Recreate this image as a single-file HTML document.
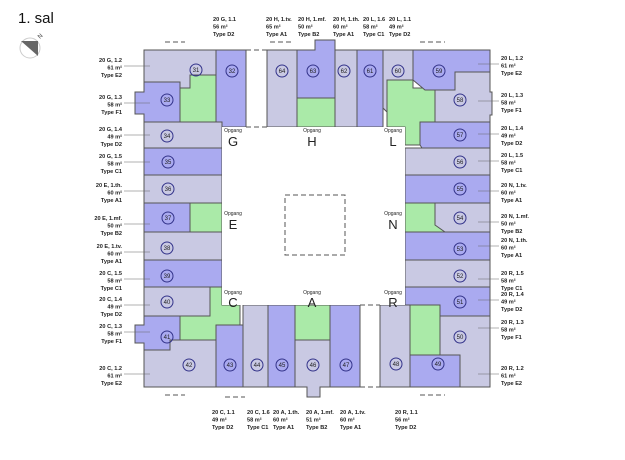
<!DOCTYPE html>
<html><head><meta charset="utf-8"><style>
html,body{margin:0;padding:0;background:#fff;}
svg{display:block;font-family:"Liberation Sans",sans-serif;}
.l{fill:#c9c9e3;stroke:#555;stroke-width:1}
.b{fill:#aaaaf0;stroke:#555;stroke-width:1}
.g{fill:#aaeaa8;stroke:#555;stroke-width:1}
.c{fill:none;stroke:#33338a;stroke-width:1}
.n{font-size:6px;fill:#222;text-anchor:middle}
.t{font-size:5.6px;font-weight:bold;fill:#222}
.op{font-size:5px;fill:#222;text-anchor:middle}
.big{font-size:13px;fill:#222;text-anchor:middle}
.d{stroke:#555;stroke-dasharray:5,3;fill:none}
</style></head><body>
<svg width="625" height="460" viewBox="0 0 625 460">
<text x="18" y="23" font-size="15" fill="#111">1. sal</text>
<circle cx="30" cy="48" r="10" fill="#fff" stroke="#ccc"/>
<polygon points="21,41 38,41 38,56" fill="#666"/>
<text x="40" y="39" font-size="6" fill="#333" transform="rotate(-45 40 39)">N</text>

<!-- top-left block -->
<polygon class="l" points="144,50 216,50 216,82 180,82 180,60 144,60"/>
<polygon class="l" points="144,50 216,50 216,75 190,75 190,88 180,88 180,82 144,82"/>
<polygon class="g" points="180,88 190,88 190,75 216,75 216,127 200,127 200,122 180,122"/>
<rect class="b" x="216" y="50" width="30" height="77"/>
<polygon class="b" points="144,82 180,82 180,122 144,122 144,114 135,114 135,92 144,92"/>
<!-- left column -->
<rect class="l" x="144" y="122" width="78" height="26"/>
<rect class="b" x="144" y="148" width="78" height="27"/>
<rect class="l" x="144" y="175" width="78" height="28"/>
<rect class="b" x="144" y="203" width="46" height="29"/>
<rect class="g" x="190" y="203" width="32" height="29"/>
<rect class="l" x="144" y="232" width="78" height="28"/>
<rect class="b" x="144" y="260" width="78" height="27"/>
<polygon class="g" points="210,287 222,287 222,305 240,305 240,325 216,325 216,355 180,355 180,316 210,316"/>
<rect class="l" x="144" y="287" width="66" height="29"/>
<polygon class="b" points="144,316 180,316 180,355 190,355 190,350 144,350 144,343 135,343 135,325 144,325"/>
<polygon class="b" points="144,316 180,316 180,350 144,350 144,343 135,343 135,325 144,325"/>
<polygon class="l" points="144,350 170,350 170,340 216,340 216,387 144,387"/>
<!-- bottom row -->
<rect class="b" x="216" y="325" width="27" height="62"/>
<rect class="l" x="243" y="305" width="25" height="82"/>
<rect class="b" x="268" y="305" width="27" height="82"/>
<rect class="g" x="295" y="305" width="35" height="35"/>
<polygon class="l" points="295,340 330,340 330,387 320,387 320,397 307,397 307,387 295,387"/>
<rect class="b" x="330" y="305" width="30" height="82"/>
<!-- bottom right -->
<rect class="l" x="380" y="305" width="30" height="82"/>
<rect class="g" x="410" y="305" width="50" height="50"/>
<rect class="b" x="410" y="355" width="50" height="32"/>
<polygon class="l" points="440,316 490,316 490,387 460,387 460,355 440,355"/>
<polygon class="b" points="405,287 490,287 490,316 440,316 440,305 405,305"/>
<!-- right column -->
<rect class="l" x="405" y="260" width="85" height="27"/>
<rect class="b" x="405" y="232" width="85" height="28"/>
<rect class="g" x="405" y="203" width="40" height="29"/>
<polygon class="l" points="435,203 490,203 490,232 445,232 435,225"/>
<rect class="b" x="405" y="175" width="85" height="28"/>
<rect class="l" x="405" y="148" width="85" height="27"/>
<polygon class="b" points="420,122 490,122 490,148 422,148 420,145"/>
<polygon class="g" points="387,80 413,80 413,88 435,88 435,122 420,122 420,145 405,145 405,127 387,127"/>
<polygon class="l" points="435,72 490,72 490,92 492,92 492,115 490,115 490,122 435,122"/>
<polygon class="b" points="413,50 490,50 490,72 455,72 455,90 425,90 413,80"/>
<polygon class="l" points="383,50 413,50 413,80 387,80 387,112 383,108"/>
<rect class="b" x="357" y="50" width="26" height="77"/>
<rect class="l" x="335" y="50" width="22" height="77"/>
<polygon class="b" points="297,50 315,50 315,40 335,40 335,98 297,98"/>
<rect class="g" x="297" y="98" width="38" height="29"/>
<rect class="l" x="267" y="50" width="30" height="77"/>
<!-- courtyard -->
<rect x="222" y="127" width="183" height="178" fill="#fff"/>
<rect class="d" x="285" y="195" width="60" height="60"/>
<line class="d" x1="246" y1="50" x2="267" y2="50"/><line class="d" x1="246" y1="127" x2="267" y2="127"/>
<line class="d" x1="360" y1="305" x2="380" y2="305"/><line class="d" x1="360" y1="387" x2="380" y2="387"/>
<line class="d" x1="165" y1="42" x2="185" y2="42"/><line class="d" x1="270" y1="42" x2="292" y2="42"/>
<line class="d" x1="225" y1="397" x2="245" y2="397"/><line class="d" x1="165" y1="395" x2="185" y2="395"/>
<line class="d" x1="420" y1="42" x2="445" y2="42"/><line class="d" x1="420" y1="395" x2="445" y2="395"/>

<g class="op"><text x="233" y="132">Opgang</text><text x="312" y="132">Opgang</text><text x="393" y="132">Opgang</text>
<text x="233" y="215">Opgang</text><text x="393" y="215">Opgang</text>
<text x="233" y="294">Opgang</text><text x="312" y="294">Opgang</text><text x="393" y="294">Opgang</text></g>
<g class="big"><text x="233" y="146">G</text><text x="312" y="146">H</text><text x="393" y="146">L</text>
<text x="233" y="229">E</text><text x="393" y="229">N</text>
<text x="233" y="307">C</text><text x="312" y="307">A</text><text x="393" y="307">R</text></g>

<g id="circ">
<g class="c">
<circle cx="196" cy="70" r="6"/><circle cx="232" cy="71" r="6"/><circle cx="167" cy="100" r="6"/>
<circle cx="167" cy="136" r="6"/><circle cx="168" cy="162" r="6"/><circle cx="168" cy="189" r="6"/>
<circle cx="168" cy="218" r="6"/><circle cx="167" cy="248" r="6"/><circle cx="167" cy="276" r="6"/>
<circle cx="167" cy="302" r="6"/><circle cx="167" cy="337" r="6"/><circle cx="189" cy="365" r="6"/>
<circle cx="230" cy="365" r="6"/><circle cx="257" cy="365" r="6"/><circle cx="282" cy="365" r="6"/>
<circle cx="313" cy="365" r="6"/><circle cx="346" cy="365" r="6"/><circle cx="396" cy="364" r="6"/>
<circle cx="438" cy="364" r="6"/><circle cx="460" cy="337" r="6"/><circle cx="460" cy="302" r="6"/>
<circle cx="460" cy="276" r="6"/><circle cx="460" cy="249" r="6"/><circle cx="460" cy="218" r="6"/>
<circle cx="460" cy="189" r="6"/><circle cx="460" cy="162" r="6"/><circle cx="460" cy="135" r="6"/>
<circle cx="460" cy="100" r="6"/><circle cx="439" cy="71" r="6"/><circle cx="398" cy="71" r="6"/>
<circle cx="370" cy="71" r="6"/><circle cx="344" cy="71" r="6"/><circle cx="313" cy="71" r="6"/>
<circle cx="282" cy="71" r="6"/></g>
<g class="n">
<text x="196" y="72">31</text><text x="232" y="73">32</text><text x="167" y="102">33</text>
<text x="167" y="138">34</text><text x="168" y="164">35</text><text x="168" y="191">36</text>
<text x="168" y="220">37</text><text x="167" y="250">38</text><text x="167" y="278">39</text>
<text x="167" y="304">40</text><text x="167" y="339">41</text><text x="189" y="367">42</text>
<text x="230" y="367">43</text><text x="257" y="367">44</text><text x="282" y="367">45</text>
<text x="313" y="367">46</text><text x="346" y="367">47</text><text x="396" y="366">48</text>
<text x="438" y="366">49</text><text x="460" y="339">50</text><text x="460" y="304">51</text>
<text x="460" y="278">52</text><text x="460" y="251">53</text><text x="460" y="220">54</text>
<text x="460" y="191">55</text><text x="460" y="164">56</text><text x="460" y="137">57</text>
<text x="460" y="102">58</text><text x="439" y="73">59</text><text x="398" y="73">60</text>
<text x="370" y="73">61</text><text x="344" y="73">62</text><text x="313" y="73">63</text>
<text x="282" y="73">64</text></g></g>

<g class="t" text-anchor="end">
<text x="122" y="62">20 G, 1.2<tspan x="122" dy="7.5">61 m²</tspan><tspan x="122" dy="7.5">Type E2</tspan></text>
<text x="122" y="99">20 G, 1.3<tspan x="122" dy="7.5">58 m²</tspan><tspan x="122" dy="7.5">Type F1</tspan></text>
<text x="122" y="131">20 G, 1.4<tspan x="122" dy="7.5">49 m²</tspan><tspan x="122" dy="7.5">Type D2</tspan></text>
<text x="122" y="158">20 G, 1.5<tspan x="122" dy="7.5">58 m²</tspan><tspan x="122" dy="7.5">Type C1</tspan></text>
<text x="122" y="187">20 E, 1.th.<tspan x="122" dy="7.5">60 m²</tspan><tspan x="122" dy="7.5">Type A1</tspan></text>
<text x="122" y="220">20 E, 1.mf.<tspan x="122" dy="7.5">50 m²</tspan><tspan x="122" dy="7.5">Type B2</tspan></text>
<text x="122" y="248">20 E, 1.tv.<tspan x="122" dy="7.5">60 m²</tspan><tspan x="122" dy="7.5">Type A1</tspan></text>
<text x="122" y="275">20 C, 1.5<tspan x="122" dy="7.5">58 m²</tspan><tspan x="122" dy="7.5">Type C1</tspan></text>
<text x="122" y="301">20 C, 1.4<tspan x="122" dy="7.5">49 m²</tspan><tspan x="122" dy="7.5">Type D2</tspan></text>
<text x="122" y="328">20 C, 1.3<tspan x="122" dy="7.5">58 m²</tspan><tspan x="122" dy="7.5">Type F1</tspan></text>
<text x="122" y="370">20 C, 1.2<tspan x="122" dy="7.5">61 m²</tspan><tspan x="122" dy="7.5">Type E2</tspan></text>
</g>
<g class="t">
<text x="501" y="60">20 L, 1.2<tspan x="501" dy="7.5">61 m²</tspan><tspan x="501" dy="7.5">Type E2</tspan></text>
<text x="501" y="97">20 L, 1.3<tspan x="501" dy="7.5">58 m²</tspan><tspan x="501" dy="7.5">Type F1</tspan></text>
<text x="501" y="130">20 L, 1.4<tspan x="501" dy="7.5">49 m²</tspan><tspan x="501" dy="7.5">Type D2</tspan></text>
<text x="501" y="157">20 L, 1.5<tspan x="501" dy="7.5">58 m²</tspan><tspan x="501" dy="7.5">Type C1</tspan></text>
<text x="501" y="187">20 N, 1.tv.<tspan x="501" dy="7.5">60 m²</tspan><tspan x="501" dy="7.5">Type A1</tspan></text>
<text x="501" y="218">20 N, 1.mf.<tspan x="501" dy="7.5">50 m²</tspan><tspan x="501" dy="7.5">Type B2</tspan></text>
<text x="501" y="242">20 N, 1.th.<tspan x="501" dy="7.5">60 m²</tspan><tspan x="501" dy="7.5">Type A1</tspan></text>
<text x="501" y="275">20 R, 1.5<tspan x="501" dy="7.5">58 m²</tspan><tspan x="501" dy="7.5">Type C1</tspan></text>
<text x="501" y="296">20 R, 1.4<tspan x="501" dy="7.5">49 m²</tspan><tspan x="501" dy="7.5">Type D2</tspan></text>
<text x="501" y="324">20 R, 1.3<tspan x="501" dy="7.5">58 m²</tspan><tspan x="501" dy="7.5">Type F1</tspan></text>
<text x="501" y="370">20 R, 1.2<tspan x="501" dy="7.5">61 m²</tspan><tspan x="501" dy="7.5">Type E2</tspan></text>
<text x="213" y="21">20 G, 1.1<tspan x="213" dy="7.5">56 m²</tspan><tspan x="213" dy="7.5">Type D2</tspan></text>
<text x="266" y="21">20 H, 1.tv.<tspan x="266" dy="7.5">65 m²</tspan><tspan x="266" dy="7.5">Type A1</tspan></text>
<text x="298" y="21">20 H, 1.mf.<tspan x="298" dy="7.5">50 m²</tspan><tspan x="298" dy="7.5">Type B2</tspan></text>
<text x="333" y="21">20 H, 1.th.<tspan x="333" dy="7.5">60 m²</tspan><tspan x="333" dy="7.5">Type A1</tspan></text>
<text x="363" y="21">20 L, 1.6<tspan x="363" dy="7.5">58 m²</tspan><tspan x="363" dy="7.5">Type C1</tspan></text>
<text x="389" y="21">20 L, 1.1<tspan x="389" dy="7.5">49 m²</tspan><tspan x="389" dy="7.5">Type D2</tspan></text>
<text x="212" y="414">20 C, 1.1<tspan x="212" dy="7.5">49 m²</tspan><tspan x="212" dy="7.5">Type D2</tspan></text>
<text x="247" y="414">20 C, 1.6<tspan x="247" dy="7.5">58 m²</tspan><tspan x="247" dy="7.5">Type C1</tspan></text>
<text x="273" y="414">20 A, 1.th.<tspan x="273" dy="7.5">60 m²</tspan><tspan x="273" dy="7.5">Type A1</tspan></text>
<text x="306" y="414">20 A, 1.mf.<tspan x="306" dy="7.5">51 m²</tspan><tspan x="306" dy="7.5">Type B2</tspan></text>
<text x="340" y="414">20 A, 1.tv.<tspan x="340" dy="7.5">60 m²</tspan><tspan x="340" dy="7.5">Type A1</tspan></text>
<text x="395" y="414">20 R, 1.1<tspan x="395" dy="7.5">56 m²</tspan><tspan x="395" dy="7.5">Type D2</tspan></text>
</g>
<g stroke="#666" stroke-width="0.6">
<line x1="124" y1="66" x2="150" y2="66"/><line x1="124" y1="103" x2="150" y2="103"/>
<line x1="124" y1="135" x2="150" y2="135"/><line x1="124" y1="162" x2="150" y2="162"/>
<line x1="124" y1="191" x2="150" y2="191"/><line x1="124" y1="224" x2="150" y2="224"/>
<line x1="124" y1="252" x2="150" y2="252"/><line x1="124" y1="279" x2="150" y2="279"/>
<line x1="124" y1="305" x2="150" y2="305"/><line x1="124" y1="332" x2="150" y2="332"/>
<line x1="124" y1="374" x2="150" y2="374"/>
<line x1="478" y1="64" x2="499" y2="64"/><line x1="478" y1="101" x2="499" y2="101"/>
<line x1="478" y1="134" x2="499" y2="134"/><line x1="478" y1="161" x2="499" y2="161"/>
<line x1="478" y1="191" x2="499" y2="191"/><line x1="478" y1="222" x2="499" y2="222"/>
<line x1="478" y1="246" x2="499" y2="246"/><line x1="478" y1="279" x2="499" y2="279"/>
<line x1="478" y1="300" x2="499" y2="300"/><line x1="478" y1="328" x2="499" y2="328"/>
<line x1="478" y1="374" x2="499" y2="374"/>
</g>
</svg>
</body></html>
